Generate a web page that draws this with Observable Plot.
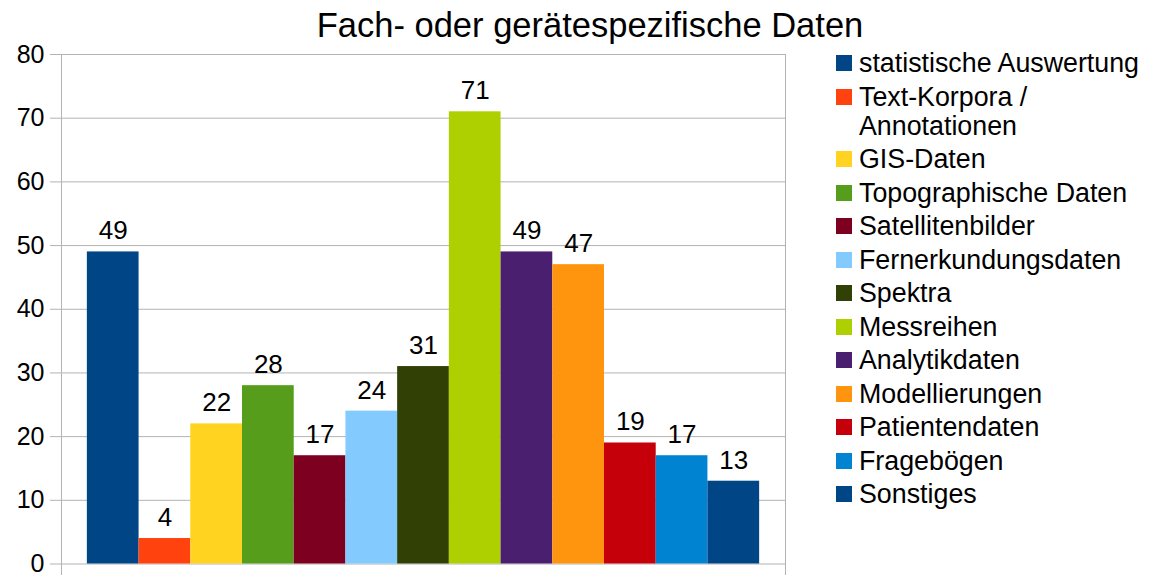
<!DOCTYPE html>
<html>
<head>
<meta charset="utf-8">
<script src="https://cdn.jsdelivr.net/npm/d3@7"></script>
<script src="https://cdn.jsdelivr.net/npm/@observablehq/plot@0.6"></script>
<style>
  html, body { margin: 0; padding: 0; background: #ffffff; }
  #wrap { position: relative; width: 1153px; height: 575px; overflow: hidden; font-family: "Liberation Sans", Arial, sans-serif; color: #000; }
  #title { position: absolute; left: 0; top: 8px; width: 1180px; text-align: center; font-size: 34.5px; line-height: 34px; white-space: nowrap; }
  #chart { position: absolute; left: 0; top: 0; }
  #legend { position: absolute; left: 836px; top: 49px; width: 317px; }
  .item { display: flex; align-items: flex-start; margin-bottom: 4.5px; }
  .sw { width: 16px; height: 16px; flex: 0 0 16px; margin-top: 6px; margin-right: 7px; }
  .lab { font-size: 26.8px; line-height: 29px; max-width: 294px; }
</style>
</head>
<body>
<div id="wrap">
  <div id="chart"></div>
  <div id="title"></div>
  <div id="legend"></div>
</div>
<script>
const titleText = "Fach- oder gerätespezifische Daten";
const categories = [
  "statistische Auswertung",
  "Text-Korpora / Annotationen",
  "GIS-Daten",
  "Topographische Daten",
  "Satellitenbilder",
  "Fernerkundungsdaten",
  "Spektra",
  "Messreihen",
  "Analytikdaten",
  "Modellierungen",
  "Patientendaten",
  "Fragebögen",
  "Sonstiges"
];
const values = [49, 4, 22, 28, 17, 24, 31, 71, 49, 47, 19, 17, 13];
const colors = [
  "#004586", "#ff420e", "#ffd320", "#579d1c", "#7e0021", "#83caff",
  "#314004", "#aecf00", "#4b1f6f", "#ff950e", "#c5000b", "#0084d1", "#004586"
];
const yTicks = [0, 10, 20, 30, 40, 50, 60, 70, 80];

const data = categories.map((c, i) => ({category: c, value: values[i]}));

document.getElementById("title").textContent = titleText;

const plot = Plot.plot({
  width: 800,
  height: 575,
  marginTop: 54,
  marginBottom: 11.5,
  marginLeft: 61,
  marginRight: 15,
  style: {fontFamily: "Liberation Sans, Arial, sans-serif", background: "transparent", color: "#000"},
  x: {domain: categories, paddingInner: 0, paddingOuter: 0.5, round: false, axis: null},
  y: {domain: [0, 80], ticks: yTicks, label: null},
  color: {domain: categories, range: colors},
  marks: [
    Plot.ruleY(yTicks, {stroke: "#b3b3b3", strokeWidth: 1}),
    Plot.frame({stroke: "#b3b3b3", strokeWidth: 1, insetBottom: -12}),
    Plot.axisY(yTicks, {
      tickSize: 11, tickPadding: 6, stroke: "#b3b3b3", strokeOpacity: 1,
      fontSize: 25, fill: "#000", label: null
    }),
    Plot.barY(data, {x: "category", y: "value", fill: "category"}),
    Plot.text(data, {
      x: "category", y: "value", text: d => String(d.value),
      lineAnchor: "bottom", dy: -12.5, fontSize: 26, fill: "#000"
    })
  ]
});
document.getElementById("chart").appendChild(plot);

const legend = document.getElementById("legend");
categories.forEach((c, i) => {
  const item = document.createElement("div");
  item.className = "item";
  const sw = document.createElement("div");
  sw.className = "sw";
  sw.style.background = colors[i];
  const lab = document.createElement("div");
  lab.className = "lab";
  lab.textContent = c;
  item.appendChild(sw);
  item.appendChild(lab);
  legend.appendChild(item);
});
</script>
</body>
</html>
